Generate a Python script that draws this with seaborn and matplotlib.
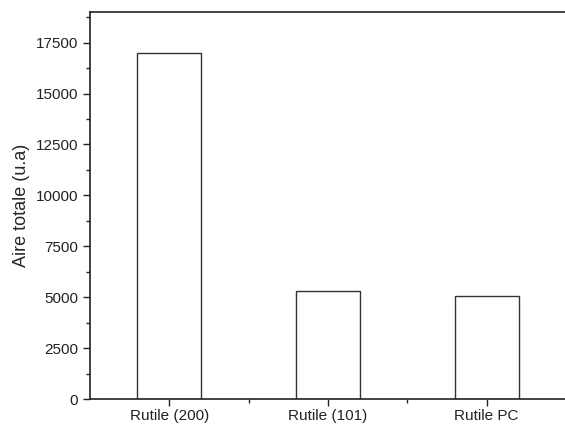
import matplotlib
matplotlib.use("Agg")
import matplotlib.pyplot as plt
import seaborn as sns
import pandas as pd
from matplotlib.ticker import MultipleLocator, FixedLocator

# data
samples = ["Rutile (200)", "Rutile (101)", "Rutile PC"]
aire_totale = [17000, 5300, 5080]

sns.set_style("ticks")
plt.rcParams['font.family'] = ['Liberation Sans', 'DejaVu Sans']

df = pd.DataFrame({'sample': samples, 'aire': aire_totale})

fig = plt.figure(figsize=(5.65, 4.3), dpi=100)
ax = fig.add_axes([0.159, 0.072, 0.843, 0.900])

sns.barplot(data=df, x='sample', y='aire', width=0.4, color='white',
            edgecolor='#333333', linewidth=1.0, ax=ax)

ax.set_xlim(-0.5, 2.5)
ax.set_ylim(0, 19000)
ax.yaxis.set_major_locator(MultipleLocator(2500))
ax.yaxis.set_minor_locator(MultipleLocator(1250))
ax.xaxis.set_minor_locator(FixedLocator([0.5, 1.5]))

ax.set_xlabel('')
ax.set_ylabel('Aire totale (u.a)', fontsize=13, labelpad=4)
ax.tick_params(axis='both', which='major', direction='out', length=5,
               width=1, labelsize=11, colors='#222222')
ax.tick_params(axis='both', which='minor', direction='out', length=3, width=1,
               colors='#222222')
ax.tick_params(axis='x', which='major', pad=2)

for side in ['left', 'bottom', 'top', 'right']:
    ax.spines[side].set_visible(True)
    ax.spines[side].set_color('#222222')
    ax.spines[side].set_linewidth(1.2)

plt.savefig('out.png', dpi=100)
plt.close()
